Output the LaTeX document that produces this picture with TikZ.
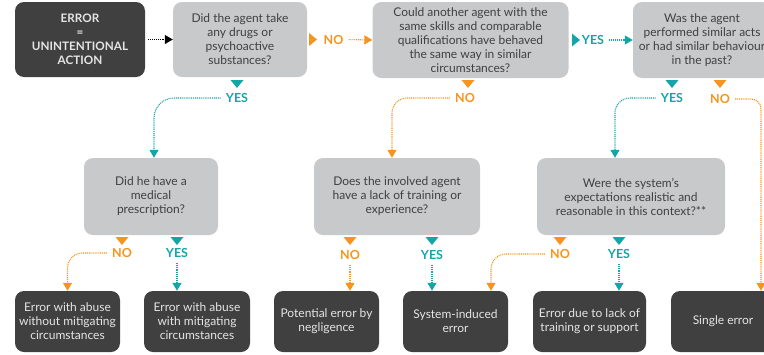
\documentclass[tikz,border=0pt]{standalone}
\usepackage{fontspec}
\setmainfont{Lato}
\usepackage{xcolor}
\usetikzlibrary{arrows.meta}

\definecolor{boxdark}{HTML}{404040}
\definecolor{boxgray}{HTML}{C8C9CB}
\definecolor{noorange}{HTML}{F7941D}
\definecolor{yesteal}{HTML}{14A5A7}

\tikzset{
  question/.style={fill=boxgray, rounded corners=9pt, text=black!75, align=center,
    font=\fontsize{12}{14}\selectfont, inner sep=0pt},
  outcome/.style={fill=boxdark, rounded corners=9pt, text=white!90!black, align=center,
    font=\fontsize{12}{14}\selectfont, inner sep=0pt},
  yeslbl/.style={text=yesteal, font=\bfseries\fontsize{12.5}{13}\selectfont, inner sep=2pt},
  nolbl/.style={text=noorange, font=\bfseries\fontsize{12.5}{13}\selectfont, inner sep=2pt},
  flow/.style={line width=1.1pt, dash pattern=on 1pt off 0.9pt, shorten <=3pt},
  elbow/.style={rounded corners=15pt},
  pics/tdown/.style={code={\fill (-6.5,0) -- (6.5,0) -- (0,8) -- cycle;}},
  pics/tright/.style={code={\fill (0,-6.5) -- (0,6.5) -- (8,0) -- cycle;}},
}

\begin{document}
\begin{tikzpicture}[x=1pt,y=-1pt]
\begin{scope}[>={Triangle[width=9pt,length=8pt]}]
    \useasboundingbox (0,0) rectangle (764,354);

    % first row
    \node[outcome, font=\bfseries\fontsize{11.7}{14}\selectfont,
          minimum width=130pt, minimum height=75pt] (err) at (80,39.5)
          {ERROR\\=\\UNINTENTIONAL\\ACTION};
    \node[question, minimum width=134pt, minimum height=75pt] (drugs) at (240,39.5)
          {Did the agent take\\any drugs or\\psychoactive\\substances?};
    \node[question, minimum width=196pt, minimum height=76pt] (peer) at (470.5,40)
          {Could another agent with the\\same skills and comparable\\qualifications have behaved\\the same way in similar\\circumstances?};
    \node[question, minimum width=138pt, minimum height=76pt] (past) at (702,40)
          {Was the agent\\performed similar acts\\or had similar behaviour\\in the past?};

    % second row
    \node[question, minimum width=134pt, minimum height=77pt] (presc) at (151,196.5)
          {Did he have a\\medical\\prescription?};
    \node[question, minimum width=166pt, minimum height=77pt] (train) at (397,196.5)
          {Does the involved agent\\have a lack of training or\\experience?};
    \node[question, minimum width=188pt, minimum height=77pt] (expect) at (631,196.5)
          {Were the system’s\\expectations realistic and\\reasonable in this context?**};

    % outcomes
    \node[outcome, minimum width=105pt, minimum height=61pt] (abuseno) at (67.5,321.5)
          {Error with abuse\\without mitigating\\circumstances};
    \node[outcome, minimum width=106pt, minimum height=61pt] (abusemit) at (197,321.5)
          {Error with abuse\\with mitigating\\circumstances};
    \node[outcome, minimum width=105pt, minimum height=61pt] (neglig) at (326.5,321.5)
          {Potential error by\\negligence};
    \node[outcome, minimum width=105pt, minimum height=61pt] (sysind) at (455.5,321.5)
          {System-induced\\error};
    \node[outcome, minimum width=113pt, minimum height=61pt] (lack) at (589.5,321.5)
          {Error due to lack of\\training or support};
    \node[outcome, minimum width=104pt, minimum height=61pt] (single) at (723,321.5)
          {Single error};

    % along the first row
    \draw[flow,->] (err) -- (drugs);
    \pic[noorange] at (309,39.5) {tright};
    \node[nolbl] (nodrugs) at (333.5,39.5) {NO};
    \draw[flow,->,noorange] (nodrugs.east) -- (peer.west);
    \pic[yesteal] at (572,40) {tright};
    \node[yeslbl] (yespeer) at (593,40) {YES};
    \draw[flow,->,yesteal] (yespeer.east) -- (past.west);

    % down from the first row
    \pic[yesteal] at (237,80) {tdown};
    \node[yeslbl] (yesdrugs) at (237,98) {YES};
    \draw[flow,->,yesteal,rounded corners=20pt] (yesdrugs.west) -| ([xshift=3pt]presc.north);
    \pic[noorange] at (468,80) {tdown};
    \node[nolbl] (nopeer) at (465,98) {NO};
    \draw[flow,->,noorange,elbow] (nopeer.west) -| ([xshift=-5pt]train.north);
    \pic[yesteal] at (672,80) {tdown};
    \node[yeslbl] (yespast) at (672,98) {YES};
    \draw[flow,->,yesteal,elbow] (yespast.west) -| ([xshift=-16pt]expect.north);
    \pic[noorange] at (720,80) {tdown};
    \node[nolbl] (nopast) at (720,99) {NO};
    \draw[flow,->,noorange,rounded corners=10pt] (nopast.east) -| ([xshift=38pt]single.north);

    % down from the second row
    \pic[noorange] at (122,237) {tdown};
    \node[nolbl] (nopresc) at (122,253) {NO};
    \draw[flow,->,noorange,elbow] (nopresc.west) -| (abuseno.north);
    \pic[yesteal] at (177,237) {tdown};
    \node[yeslbl] (yespresc) at (177,253) {YES};
    \draw[flow,->,yesteal] (yespresc.south) -- (yespresc.south |- abusemit.north);
    \pic[noorange] at (350,237) {tdown};
    \node[nolbl] (notrain) at (350,255) {NO};
    \draw[flow,->,noorange] (notrain.south) -- (notrain.south |- neglig.north);
    \pic[yesteal] at (432,237) {tdown};
    \node[yeslbl] (yestrain) at (432,255) {YES};
    \draw[flow,->,yesteal] (yestrain.south) -- (yestrain.south |- sysind.north);
    \pic[noorange] at (560,237) {tdown};
    \node[nolbl] (noexpect) at (560,254) {NO};
    \draw[flow,->,noorange,elbow] (noexpect.west) -| ([xshift=35.5pt]sysind.north);
    \pic[yesteal] at (619,237) {tdown};
    \node[yeslbl] (yesexpect) at (619,254) {YES};
    \draw[flow,->,yesteal] (yesexpect.south) -- (yesexpect.south |- lack.north);
\end{scope}
\end{tikzpicture}
\end{document}
